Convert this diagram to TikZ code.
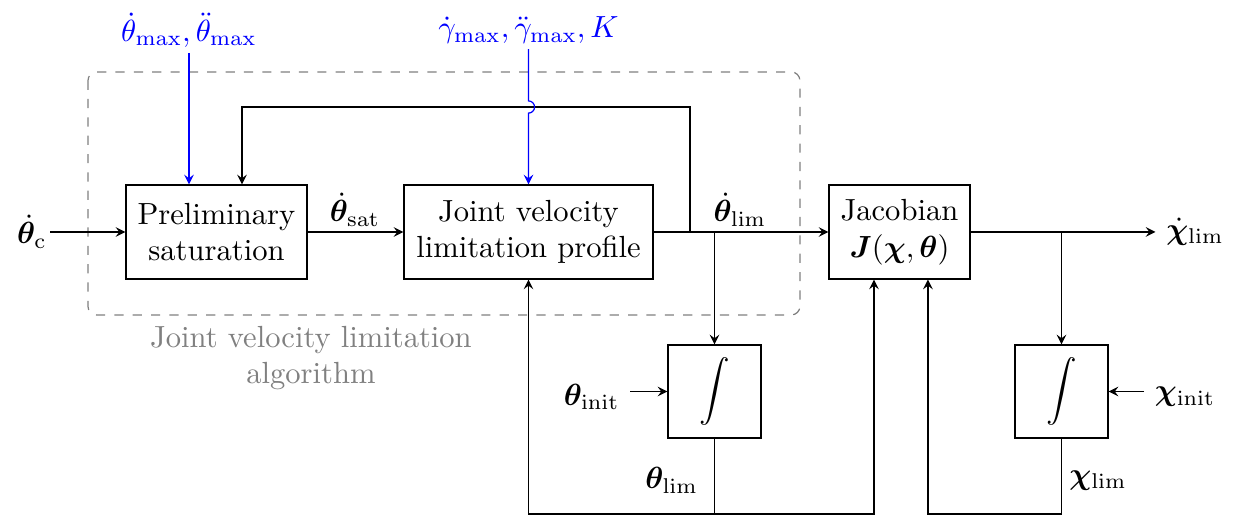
\documentclass[tikz,border=0pt]{standalone}
\usepackage{amsmath}
\usepackage{bm}
\usetikzlibrary{positioning}
\usetikzlibrary{arrows.meta}

\begin{document}
\begin{tikzpicture}[
        >=stealth,
        blocknode/.style={rectangle, draw=black, minimum height=1.08cm, align=center, inner sep=2pt},
        intnode/.style={rectangle, draw=black, minimum size=1.07cm, inner sep=0pt}
    ]
    \useasboundingbox (0,0) rectangle (14.263,-5.919);

        % blocks
        \node [blocknode, minimum width=2.08cm] (Prelim) at (2.488,-2.666) {Preliminary\\saturation};
        \node [blocknode, minimum width=2.862cm] (Profile) at (6.074,-2.666) {Joint velocity\\limitation profile};
        \node [blocknode, minimum width=1.62cm] (Jacobian) at (10.338,-2.666) {Jacobian\\$\bm{J}(\bm{\chi},\bm{\theta})$};
        \node [intnode] (IntTheta) at (8.212,-4.5) {$\displaystyle\int$};
        \node [intnode] (IntChi) at (12.2,-4.5) {$\displaystyle\int$};

        % signals
        \node [inner sep=1pt] (ThetaC) at (0.368,-2.666) {$\dot{\bm{\theta}}_\mathrm{c}$};
        \node (ThetaSat) at (4.08,-2.41) {$\dot{\bm{\theta}}_\mathrm{sat}$};
        \node (ThetaDotLim) at (8.505,-2.41) {$\dot{\bm{\theta}}_\mathrm{lim}$};
        \node (ChiDotLim) at (13.734,-2.666) {$\dot{\bm{\chi}}_\mathrm{lim}$};
        \node (ThetaInit) at (6.80,-4.56) {$\bm{\theta}_\mathrm{init}$};
        \node (ChiInit) at (13.62,-4.56) {$\bm{\chi}_\mathrm{init}$};
        \node (ThetaLim) at (7.72,-5.52) {$\bm{\theta}_\mathrm{lim}$};
        \node (ChiLim) at (12.62,-5.52) {$\bm{\chi}_\mathrm{lim}$};
        \node [blue] (ThetaMax) at (2.172,-0.345) {$\dot\theta_{\max},\ddot\theta_{\max}$};
        \node [blue] (GammaMax) at (6.074,-0.345) {$\dot\gamma_{\max},\ddot\gamma_{\max},K$};

        % algorithm frame
        \draw [gray, dashed, rounded corners=0.1cm] (1.011,-0.827) rectangle (9.194,-3.62);
        \node [gray, align=center] (AlgoLabel) at (3.574,-4.114) {Joint velocity limitation\\algorithm};

        \coordinate (SplitFb) at (7.93,-2.666);
        \coordinate (FbTop) at (2.781,-1.23);
        \coordinate (JumpTop) at (6.074,-1.16);
        \coordinate (ThetaBot) at (8.212,-5.907);
        \coordinate (ChiBot) at (12.2,-5.907);

        \draw[->] (ThetaC) -- (Prelim);
        \draw[->] (Prelim) -- (Profile);
        \draw[->] (Profile) -- (Jacobian);
        \draw[->] (Jacobian) -- (ChiDotLim);
        \draw[->] (SplitFb) -- (SplitFb |- FbTop) -- (FbTop) -- (FbTop |- Prelim.north);
        \draw[->] (IntTheta.north |- Profile) -- (IntTheta);
        \draw[->] (IntChi.north |- Jacobian) -- (IntChi);
        \draw[->] (IntTheta.west -| ThetaInit.east) -- (IntTheta.west);
        \draw[->] (IntChi.east -| ChiInit.west) -- (IntChi.east);
        \draw[->] (IntTheta) -- (ThetaBot) -| (Profile.south);
        \draw[->] (ThetaBot) -| ([xshift=-0.293cm]Jacobian.south);
        \draw[->] (IntChi) -- (ChiBot) -| ([xshift=0.327cm]Jacobian.south);
        \draw[->, blue] ([yshift=0.06cm]ThetaMax.south) -- (ThetaMax |- Prelim.north);
        \draw[->, blue] ([yshift=0.06cm]GammaMax.south) -- (JumpTop) arc[start angle=90, end angle=-90, radius=0.07cm] -- (Profile.north);

    \end{tikzpicture}
\end{document}
